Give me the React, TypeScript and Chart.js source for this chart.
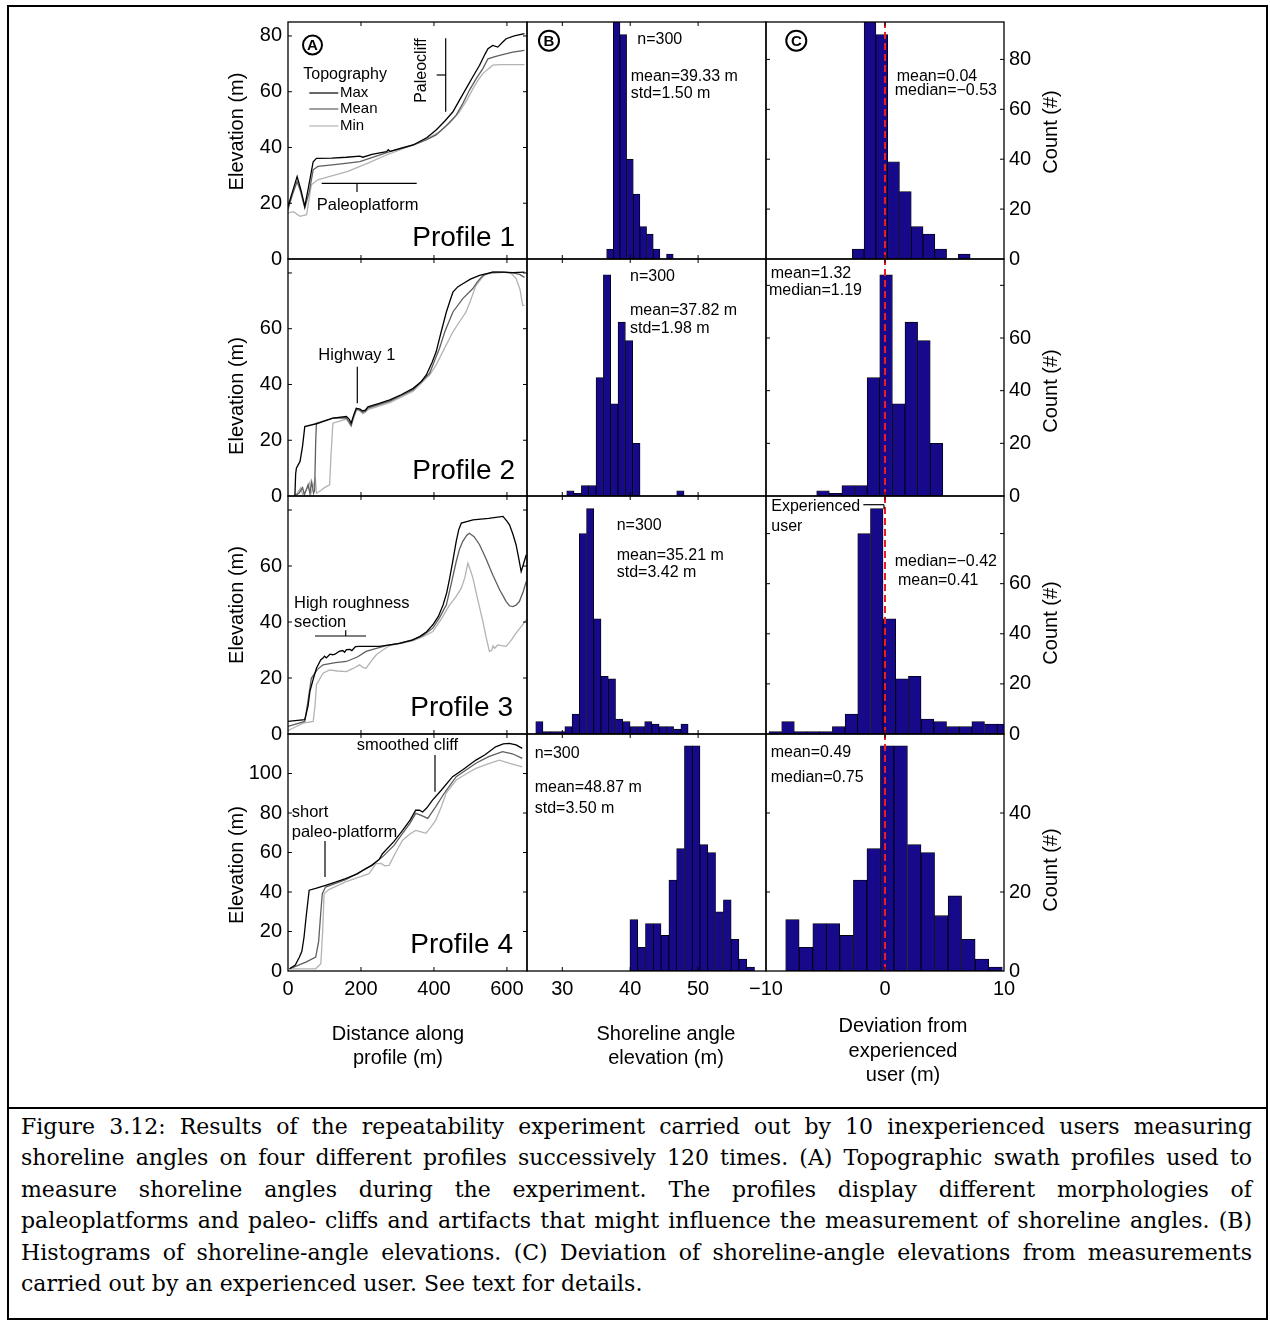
import React, { useEffect, useRef } from "react";
import { Chart, registerables } from "chart.js";

Chart.register(...registerables);

const SANS = '"Liberation Sans", Arial, Helvetica, sans-serif';
Chart.defaults.font.family = SANS;
Chart.defaults.color = "#000";

// ---------------- tick labels ----------------
const distanceTicks = [0, 200, 400, 600];
const shorelineTicks = [30, 40, 50];
const deviationTicks = [-10, 0, 10];
const elevationTicks = [
  [0, 20, 40, 60, 80],
  [0, 20, 40, 60, 80],
  [0, 20, 40, 60, 80],
  [0, 20, 40, 60, 80, 100, 120],
];
const elevationLabeled = [
  [0, 20, 40, 60, 80],
  [0, 20, 40, 60],
  [0, 20, 40, 60],
  [0, 20, 40, 60, 80, 100],
];
const countTicks = [
  [0, 20, 40, 60, 80],
  [0, 20, 40, 60, 80],
  [0, 20, 40, 60, 80],
  [0, 20, 40, 60],
];
const countLabeled = [
  [0, 20, 40, 60, 80],
  [0, 20, 40, 60],
  [0, 20, 40, 60],
  [0, 20, 40],
];

// ---------------- axis ranges ----------------
const distanceRange = [0, 655];
const shorelineRange = [24.8, 60];
const deviationRange = [-10, 10];
const elevationMax = [85, 85, 85, 120];
const countMax = [95, 90, 95, 60];

// ---------------- (A) topographic swath profiles: [distance m, elevation m] ----------------
const profile1Max = [[0,18.9],[12,24],[25,29.6],[35,25],[46,18.9],[55,25],[69,34.9],[78,36.1],[120,36.2],[160,36.5],[197,36.9],[205,36.5],[230,37.5],[270,38.5],[275,39.2],[280,38.6],[310,39.8],[343,40.9],[380,43.5],[406,46.3],[430,49.5],[452,52.8],[470,57],[488,61.1],[505,65],[525,69.5],[540,73.5],[548,75.4],[561,76.6],[575,76],[590,78],[598,79],[620,80],[648,80.8]];
const profile1Mean = [[0,17.7],[12,23],[25,27.8],[35,24],[46,18.3],[58,24],[69,32],[82,33.2],[140,34],[197,34.9],[240,36.8],[279,38.5],[310,39.6],[343,40.8],[380,42.8],[406,44.5],[435,48],[461,51.6],[480,56],[497,60.5],[515,64.5],[534,68.3],[548,71.8],[565,72.5],[580,73],[616,74.2],[648,74.8]];
const profile1Min = [[0,16.5],[15,17],[33,15.3],[51,15.9],[64,26.6],[82,28.4],[120,29.8],[164,31.4],[219,34.4],[270,37.3],[310,39.3],[352,41.5],[385,43.5],[415,45.6],[445,49],[470,52.8],[490,57],[507,61.1],[520,64],[534,66.5],[561,69.5],[580,69.7],[648,69.7]];

const profile2Max = [[17,0],[19,0.5],[21,8],[23,10],[33,12.4],[40,18],[46,24.9],[80,26],[123,27.9],[160,28.5],[168,27.5],[173,26.1],[180,29],[187,31.5],[197,31.2],[205,30.5],[212,30.8],[219,32],[250,33.2],[279,34.5],[310,36.3],[343,38.6],[365,41],[379,43.4],[395,48],[406,51.7],[420,59],[434,66],[444,70],[452,73.1],[465,75],[479,76.1],[500,77.8],[525,79.1],[561,80.3],[590,80.3],[616,80.1],[648,80.3]];
const profile2Mean = [[17,0],[30,1],[40,3],[45,0.5],[55,4],[60,1],[65,5],[70,1],[73,2],[76,20],[78,26.1],[123,27.9],[160,28],[168,26.5],[173,25.3],[180,28.5],[188,31.2],[197,30.8],[205,30],[212,30.3],[219,31.5],[279,34],[343,38.1],[388,44],[400,48],[415,52.9],[430,59],[452,66],[479,70.8],[506,74.3],[520,77],[534,79.1],[560,80.3],[580,80.3],[616,80],[635,79.5],[648,78.4]];
const profile2Min = [[17,0],[25,1],[35,3],[40,0.5],[50,2],[60,5],[62,0.5],[70,4],[75,6],[78,1],[90,2],[100,3],[114,4],[118,15],[123,26.1],[160,27.6],[168,26],[173,25],[180,28],[188,30.8],[197,30.5],[205,29.5],[212,30],[219,31],[279,33.5],[343,37.6],[388,43.4],[406,47],[424,51.7],[452,58.9],[470,62.5],[488,66],[500,70],[515,75.5],[530,78],[543,79.7],[598,80.3],[612,79.8],[625,78.1],[636,74],[643,68.4],[648,68.4]];

const profile3Max = [[0,4.5],[46,5.1],[55,10],[60,15.2],[70,20],[78,23.5],[90,26.5],[96,27.1],[100,27.8],[105,27.2],[115,28.5],[123,28.3],[130,28.6],[140,29.5],[150,29.8],[155,29.2],[160,30.1],[170,30.2],[175,29.8],[185,31.2],[196,31.3],[251,31.3],[306,32.4],[340,33.5],[361,34.8],[380,36.5],[397,39],[412,42],[425,46.1],[435,50.5],[443,55.6],[452,62],[461,68.8],[468,73],[475,75.3],[507,76.5],[550,77],[589,77.7],[600,76],[607,74.7],[616,71.5],[625,67.6],[632,63],[639,58],[646,61],[653,64]];
const profile3Mean = [[0,2.7],[46,4.5],[55,12],[64,19.9],[80,23],[96,24.7],[130,25.5],[160,25.9],[190,27.5],[214,29.5],[240,30.5],[269,31.6],[300,32.3],[342,33.6],[370,35.2],[397,37.8],[415,41.5],[434,46.1],[448,54],[461,61.6],[470,66],[479,68.8],[490,71],[497,71.7],[510,70.5],[525,67.6],[543,62.5],[561,56.9],[580,51.5],[598,47.3],[607,45.8],[616,45.5],[625,46],[634,47.3],[645,51],[653,54.5]];
const profile3Min = [[0,1.2],[20,2.5],[42,3.9],[69,4.5],[74,10],[78,17.6],[96,21.7],[114,22.9],[135,22.5],[160,22.3],[180,23.5],[196,24.7],[205,23.8],[214,23.5],[228,26],[242,28.3],[260,30],[279,31.6],[310,32.4],[342,33.3],[370,34.8],[397,36.6],[420,41],[443,46.1],[460,49],[475,52.1],[485,56],[493,61],[500,58.5],[507,55.6],[520,48],[534,40.2],[543,34.5],[552,29.5],[558,29.8],[562,31.5],[566,30.6],[575,31.8],[590,31.5],[598,31.3],[612,33.5],[625,36],[640,38.5],[653,40.8]];

const profile4Max = [[4,1.1],[20,3],[31,7],[38,10],[44,17.2],[50,28],[58,40.9],[76,41.8],[103,43.4],[130,45],[158,46.8],[190,49.2],[213,51.9],[230,53.5],[241,55.2],[250,56.5],[259,59.4],[290,65.5],[314,71.2],[335,76.5],[350,81.4],[360,81.4],[369,80.5],[380,82.5],[396,86.5],[420,91.5],[451,98.4],[480,102],[515,106.8],[540,109.5],[569,113.5],[590,115],[606,115.3],[625,114.5],[642,112.7]];
const profile4Mean = [[4,1.1],[49,4.5],[76,7],[84,15],[90,30],[94,39.1],[103,42.5],[158,46.2],[222,52.6],[241,55.2],[259,57.8],[290,63.5],[314,69.7],[335,75],[350,79.8],[365,78.8],[383,77.3],[405,83.2],[430,90.5],[461,98.4],[490,102],[515,105.2],[550,108.5],[588,111.1],[615,110],[642,107.7]];
const profile4Min = [[4,1.1],[40,1.1],[76,1.1],[90,3.7],[95,20],[99,39.1],[112,41.2],[158,45.1],[222,49.3],[241,54.4],[255,54.5],[265,53.3],[277,53.5],[295,60],[314,66.2],[335,69.5],[350,71.2],[365,70.5],[378,69.7],[392,73],[405,76.4],[420,83],[433,90],[461,96.7],[490,100],[515,102.6],[550,105],[579,106.8],[610,105],[642,103.4]];

// ---------------- (B) shoreline-angle elevation histograms ----------------
const elev1Bins = [37.02, 38.0, 38.98, 39.96, 40.94, 41.92, 42.9, 43.88, 45.84];
const elev1Counts = [4, 111, 90, 40, 26, 13, 10, 4, 2];
const elev2Bins = [31.19, 32.27, 33.35, 34.43, 35.51, 36.59, 37.67, 38.75, 39.83, 40.91, 47.39];
const elev2Counts = [2, 1, 4, 4, 45, 84, 35, 66, 59, 20, 2];
const elev3Bins = [26.62, 27.69, 28.76, 29.83, 30.9, 31.97, 33.03, 34.1, 35.17, 36.24, 37.31, 38.38, 39.45, 40.52, 41.59, 42.66, 43.73, 44.8, 45.86, 46.93, 48.0];
const elev3Counts = [5, 1, 1, 1, 3, 8, 80, 90, 46, 23, 22, 6, 5, 3, 3, 5, 4, 3, 3, 2, 4];
const elev4Bins = [40.53, 41.68, 42.82, 43.97, 45.12, 46.27, 47.41, 48.56, 49.71, 50.85, 52.0, 53.15, 54.3, 55.44, 56.59, 57.74];
const elev4Counts = [13, 6, 12, 12, 9, 23, 31, 57, 57, 32, 30, 15, 18, 8, 3, 1];

// ---------------- (C) deviation from experienced user ----------------
const dev1Bins = [-2.25, -1.26, -0.27, 0.72, 1.71, 2.7, 3.69, 4.68, 6.66];
const dev1Counts = [4, 111, 90, 39, 27, 13, 10, 4, 2];
const dev2Bins = [-5.21, -4.15, -3.09, -2.03, -0.97, 0.09, 1.15, 2.21, 3.27, 4.33];
const dev2Counts = [2, 1, 4, 4, 45, 84, 35, 66, 59, 20];
const dev3Bins = [-9.22, -8.15, -7.09, -6.02, -4.96, -3.89, -2.82, -1.76, -0.69, 0.37, 1.44, 2.5, 3.57, 4.64, 5.7, 6.77, 7.83, 8.9, 9.96];
const dev3Counts = [1, 5, 1, 1, 1, 3, 8, 80, 90, 46, 22, 23, 6, 5, 3, 3, 5, 4, 4];
const dev4Bins = [-7.78, -6.64, -5.5, -4.37, -3.23, -2.09, -0.95, 0.18, 1.32, 2.46, 3.6, 4.73, 5.87, 7.01, 8.15, 9.29];
const dev4Counts = [13, 6, 12, 12, 9, 23, 31, 57, 57, 32, 30, 14, 19, 8, 3, 1];
const experiencedDeviation = 0;

const profiles = [
  [profile1Max, profile1Mean, profile1Min],
  [profile2Max, profile2Mean, profile2Min],
  [profile3Max, profile3Mean, profile3Min],
  [profile4Max, profile4Mean, profile4Min],
];
const elevBins = [elev1Bins, elev2Bins, elev3Bins, elev4Bins];
const elevCounts = [elev1Counts, elev2Counts, elev3Counts, elev4Counts];
const devBins = [dev1Bins, dev2Bins, dev3Bins, dev4Bins];
const devCounts = [dev1Counts, dev2Counts, dev3Counts, dev4Counts];

const seriesNames = ["Max", "Mean", "Min"];
const seriesColors = ["#000000", "#5f5f5f", "#b3b3b3"];
const BAR_FILL = "#160a8a";

// ---------------- layout ----------------
const COL_X = [288, 527, 766];
const COL_W = [239, 239, 238];
const ROW_Y = [22, 259, 496, 734];
const ROW_H = [237, 237, 238, 237];
const PAD_V = 22;
const Y_AXIS_W = 75;
const X_AXIS_H = 30;
const TITLE_SPACE = 100;
const SIDE = 10;
const C_LEFT_R4 = 28;
const TICK_FONT = 20;
const STAT = 16;

type Note = { t: string; x: number; y: number; s?: number; a?: CanvasTextAlign; rot?: boolean; bl?: CanvasTextBaseline };
type Seg = { x1: number; y1: number; x2: number; y2: number; c?: string; w?: number };
type Ring = { x: number; y: number; r: number; l: string };
type Deco = { notes: Note[]; segs: Seg[]; rings: Ring[]; ySides: string[] };

const decoA: Deco[] = [
  {
    notes: [
      { t: "Topography", x: 15.3, y: 52.3, s: 16 },
      { t: "Max", x: 52, y: 71, s: 15 },
      { t: "Mean", x: 52, y: 87, s: 15 },
      { t: "Min", x: 52, y: 104, s: 15 },
      { t: "Paleocliff", x: 133.7, y: 48.5, s: 16, rot: true, a: "center" },
      { t: "Paleoplatform", x: 28.7, y: 183.8, s: 16.5 },
      { t: "Profile 1", x: 227, y: 224, s: 28, a: "right", bl: "alphabetic" },
      { t: "Elevation (m)", x: -51, y: 109.5, s: 20, rot: true, a: "center" },
    ],
    segs: [
      { x1: 21.3, y1: 71, x2: 50.3, y2: 71, c: seriesColors[0] },
      { x1: 21.3, y1: 87, x2: 50.3, y2: 87, c: seriesColors[1] },
      { x1: 21.3, y1: 104, x2: 50.3, y2: 104, c: seriesColors[2] },
      { x1: 157.7, y1: 16.3, x2: 157.7, y2: 89.7 },
      { x1: 148.7, y1: 53, x2: 157.7, y2: 53 },
      { x1: 33.7, y1: 161.3, x2: 128.7, y2: 161.3 },
      { x1: 69, y1: 161.3, x2: 69, y2: 170 },
    ],
    rings: [{ x: 24.5, y: 23, r: 9.5, l: "A" }],
    ySides: ["left", "right"],
  },
  {
    notes: [
      { t: "Highway 1", x: 30.3, y: 96, s: 16.5 },
      { t: "Profile 2", x: 227, y: 220, s: 28, a: "right", bl: "alphabetic" },
      { t: "Elevation (m)", x: -51, y: 137, s: 20, rot: true, a: "center" },
    ],
    segs: [{ x1: 69.3, y1: 107.7, x2: 69.3, y2: 144.3 }],
    rings: [],
    ySides: ["left", "right"],
  },
  {
    notes: [
      { t: "High roughness", x: 6, y: 107, s: 16.5 },
      { t: "section", x: 6, y: 126, s: 16.5 },
      { t: "Profile 3", x: 225, y: 220, s: 28, a: "right", bl: "alphabetic" },
      { t: "Elevation (m)", x: -51, y: 109, s: 20, rot: true, a: "center" },
    ],
    segs: [
      { x1: 27, y1: 140, x2: 78, y2: 140 },
      { x1: 57.7, y1: 134.3, x2: 57.7, y2: 140 },
    ],
    rings: [],
    ySides: ["left", "right"],
  },
  {
    notes: [
      { t: "smoothed cliff", x: 68.7, y: 11, s: 16.5 },
      { t: "short", x: 3.7, y: 78.5, s: 16.5 },
      { t: "paleo-platform", x: 3.7, y: 98.5, s: 16.5 },
      { t: "Profile 4", x: 225, y: 219, s: 28, a: "right", bl: "alphabetic" },
      { t: "Elevation (m)", x: -51, y: 131, s: 20, rot: true, a: "center" },
      { t: "Distance along", x: 110, y: 300, s: 20, a: "center" },
      { t: "profile (m)", x: 110, y: 324, s: 20, a: "center" },
    ],
    segs: [
      { x1: 147, y1: 21, x2: 147, y2: 57.7 },
      { x1: 37, y1: 107, x2: 37, y2: 143 },
    ],
    rings: [],
    ySides: ["left", "right"],
  },
];

const decoB: Deco[] = [
  {
    notes: [
      { t: "n=300", x: 110.3, y: 18 },
      { t: "mean=39.33 m", x: 103.7, y: 54.7 },
      { t: "std=1.50 m", x: 103.7, y: 72 },
    ],
    segs: [],
    rings: [{ x: 22, y: 18.7, r: 10, l: "B" }],
    ySides: [],
  },
  {
    notes: [
      { t: "n=300", x: 103, y: 17.7 },
      { t: "mean=37.82 m", x: 103, y: 52 },
      { t: "std=1.98 m", x: 103, y: 70 },
    ],
    segs: [],
    rings: [],
    ySides: [],
  },
  {
    notes: [
      { t: "n=300", x: 89.7, y: 29.3 },
      { t: "mean=35.21 m", x: 89.7, y: 59.3 },
      { t: "std=3.42 m", x: 89.7, y: 77 },
    ],
    segs: [],
    rings: [],
    ySides: [],
  },
  {
    notes: [
      { t: "n=300", x: 7.7, y: 20 },
      { t: "mean=48.87 m", x: 7.7, y: 53.3 },
      { t: "std=3.50 m", x: 7.7, y: 75 },
      { t: "Shoreline angle", x: 139, y: 300, s: 20, a: "center" },
      { t: "elevation (m)", x: 139, y: 324, s: 20, a: "center" },
    ],
    segs: [],
    rings: [],
    ySides: [],
  },
];

const decoC: Deco[] = [
  {
    notes: [
      { t: "mean=0.04", x: 130.7, y: 54.7 },
      { t: "median=\u22120.53", x: 128.7, y: 69 },
      { t: "Count (#)", x: 285, y: 110, s: 20, rot: true, a: "center" },
    ],
    segs: [],
    rings: [{ x: 30.3, y: 18.7, r: 10, l: "C" }],
    ySides: ["left", "right"],
  },
  {
    notes: [
      { t: "mean=1.32", x: 4.7, y: 14.3 },
      { t: "median=1.19", x: 3, y: 32 },
      { t: "Count (#)", x: 285, y: 132, s: 20, rot: true, a: "center" },
    ],
    segs: [],
    rings: [],
    ySides: ["left", "right"],
  },
  {
    notes: [
      { t: "Experienced", x: 5.3, y: 11 },
      { t: "user", x: 5.3, y: 30.3 },
      { t: "median=\u22120.42", x: 128.7, y: 66 },
      { t: "mean=0.41", x: 132, y: 84.3 },
      { t: "Count (#)", x: 285, y: 127, s: 20, rot: true, a: "center" },
    ],
    segs: [
      { x1: 97.3, y1: 8.7, x2: 118, y2: 8.7 },
      { x1: 118, y1: 8.7, x2: 118, y2: 13 },
    ],
    rings: [],
    ySides: ["left", "right"],
  },
  {
    notes: [
      { t: "mean=0.49", x: 4.7, y: 18.7 },
      { t: "median=0.75", x: 4.7, y: 43.3 },
      { t: "Count (#)", x: 285, y: 136, s: 20, rot: true, a: "center" },
      { t: "Deviation from", x: 137, y: 292, s: 20, a: "center" },
      { t: "experienced", x: 137, y: 317, s: 20, a: "center" },
      { t: "user (m)", x: 137, y: 341, s: 20, a: "center" },
    ],
    segs: [],
    rings: [],
    ySides: ["left", "right"],
  },
];

function fmt(v: number) {
  return v < 0 ? "\u2212" + Math.abs(v) : String(v);
}

function decoPlugin(deco: Deco) {
  return {
    id: "panelDeco",
    afterDraw(chart: any) {
      const { ctx, chartArea: a } = chart;
      const xs = chart.scales.x;
      const ys = chart.scales.y;
      const TL = 4;
      ctx.save();
      ctx.strokeStyle = "#000";
      ctx.lineWidth = 1;
      ctx.beginPath();
      for (const t of xs.ticks || []) {
        const p = xs.getPixelForValue(t.value);
        if (p <= a.left + 1 || p >= a.right - 1) continue;
        ctx.moveTo(p, a.bottom);
        ctx.lineTo(p, a.bottom - TL);
        ctx.moveTo(p, a.top);
        ctx.lineTo(p, a.top + TL);
      }
      for (const t of ys.ticks || []) {
        const p = ys.getPixelForValue(t.value);
        if (p <= a.top + 1 || p >= a.bottom - 1) continue;
        if (deco.ySides.includes("left")) {
          ctx.moveTo(a.left, p);
          ctx.lineTo(a.left + TL, p);
        }
        if (deco.ySides.includes("right")) {
          ctx.moveTo(a.right, p);
          ctx.lineTo(a.right - TL, p);
        }
      }
      ctx.stroke();
      ctx.lineWidth = 1.3;
      ctx.strokeRect(a.left, a.top, a.right - a.left, a.bottom - a.top);
      for (const s of deco.segs) {
        ctx.beginPath();
        ctx.strokeStyle = s.c || "#000";
        ctx.lineWidth = s.w || 1.2;
        ctx.moveTo(a.left + s.x1, a.top + s.y1);
        ctx.lineTo(a.left + s.x2, a.top + s.y2);
        ctx.stroke();
      }
      ctx.fillStyle = "#000";
      for (const r of deco.rings) {
        ctx.beginPath();
        ctx.strokeStyle = "#000";
        ctx.lineWidth = 2;
        ctx.arc(a.left + r.x, a.top + r.y, r.r, 0, Math.PI * 2);
        ctx.stroke();
        ctx.font = `bold 15px ${SANS}`;
        ctx.textAlign = "center";
        ctx.textBaseline = "middle";
        ctx.fillText(r.l, a.left + r.x, a.top + r.y + 1);
      }
      for (const n of deco.notes) {
        ctx.font = `${n.s || STAT}px ${SANS}`;
        ctx.textAlign = n.a || "left";
        ctx.textBaseline = n.bl || "middle";
        if (n.rot) {
          ctx.save();
          ctx.translate(a.left + n.x, a.top + n.y);
          ctx.rotate(-Math.PI / 2);
          ctx.fillText(n.t, 0, 0);
          ctx.restore();
        } else {
          ctx.fillText(n.t, a.left + n.x, a.top + n.y);
        }
      }
      ctx.restore();
    },
  };
}

function xScale(range: number[], ticks: number[], showLabels: boolean) {
  return {
    type: "linear",
    min: range[0],
    max: range[1],
    bounds: "data",
    offset: false,
    grid: { display: false, drawTicks: false },
    border: { display: false },
    afterBuildTicks: (s: any) => {
      s.ticks = ticks.map((v) => ({ value: v }));
    },
    afterFit: (s: any) => {
      s.height = showLabels ? X_AXIS_H : 0;
    },
    ticks: {
      display: showLabels,
      padding: 6,
      maxRotation: 0,
      autoSkip: false,
      font: { size: TICK_FONT },
      color: "#000",
      callback: (v: any) => fmt(Number(v)),
    },
  };
}

function yScale(max: number, ticks: number[], labeled: number[], pos: string | null) {
  const cfg: any = {
    type: "linear",
    min: 0,
    max,
    bounds: "data",
    display: pos !== null,
    position: pos || "left",
    grid: { display: false, drawTicks: false },
    border: { display: false },
    afterBuildTicks: (s: any) => {
      s.ticks = ticks.map((v) => ({ value: v }));
    },
    ticks: {
      padding: pos === "right" ? 5 : 6,
      autoSkip: false,
      font: { size: TICK_FONT },
      color: "#000",
      callback: (v: any) => (labeled.includes(Number(v)) ? fmt(Number(v)) : ""),
    },
  };
  if (pos !== null) {
    cfg.afterFit = (s: any) => {
      s.width = Y_AXIS_W;
    };
  }
  return cfg;
}

type PanelSpec = { key: string; left: number; top: number; width: number; height: number; make: () => any };

function buildPanel(r: number, c: number): PanelSpec {
  const X = COL_X[c];
  const W = COL_W[c];
  const Y = ROW_Y[r];
  const H = ROW_H[r];
  const last = r === 3;
  const padBottom = last ? TITLE_SPACE : PAD_V;
  const height = PAD_V + H + (last ? X_AXIS_H + TITLE_SPACE : PAD_V);
  const top = Y - PAD_V;
  const common = {
    animation: false,
    responsive: false,
    maintainAspectRatio: false,
    events: [],
  };
  if (c === 0) {
    const left = X - Y_AXIS_W;
    const width = Y_AXIS_W + W + SIDE;
    const make = () => ({
      type: "line",
      data: {
        datasets: profiles[r].map((pts, i) => ({
          label: seriesNames[i],
          data: pts.map(([x, y]) => ({ x, y })),
          borderColor: seriesColors[i],
          borderWidth: 1.3,
          pointRadius: 0,
          tension: 0,
          fill: false,
          order: i,
          clip: 0,
        })),
      },
      options: {
        ...common,
        layout: { padding: { left: 0, right: SIDE, top: PAD_V, bottom: padBottom } },
        plugins: { legend: { display: false }, tooltip: { enabled: false } },
        scales: {
          x: xScale(distanceRange, distanceTicks, last),
          y: yScale(elevationMax[r], elevationTicks[r], elevationLabeled[r], "left"),
        },
      },
      plugins: [decoPlugin(decoA[r])],
    });
    return { key: `p${r}${c}`, left, top, width, height, make };
  }
  const isC = c === 2;
  const padL = isC ? (last ? C_LEFT_R4 : SIDE) : SIDE;
  const padR = isC ? 0 : SIDE;
  const left = X - padL;
  const width = padL + W + (isC ? Y_AXIS_W : SIDE);
  const bins = isC ? devBins[r] : elevBins[r];
  const counts = isC ? devCounts[r] : elevCounts[r];
  const make = () => {
    const datasets: any[] = [];
    if (isC) {
      datasets.push({
        type: "line",
        label: "Experienced user",
        data: [
          { x: experiencedDeviation, y: 0 },
          { x: experiencedDeviation, y: countMax[r] },
        ],
        borderColor: "#ee1b24",
        borderWidth: 2,
        borderDash: [7, 4],
        pointRadius: 0,
        order: 0,
        clip: 0,
      });
    }
    datasets.push({
      type: "bar",
      label: "Count",
      data: bins.map((x, i) => ({ x, y: counts[i] })),
      backgroundColor: BAR_FILL,
      borderColor: "#000",
      borderWidth: 0.8,
      borderSkipped: false,
      barPercentage: 1,
      categoryPercentage: 1,
      order: 1,
      clip: 0,
    });
    return {
      type: "bar",
      data: { datasets },
      options: {
        ...common,
        layout: { padding: { left: padL, right: padR, top: PAD_V, bottom: padBottom } },
        plugins: { legend: { display: false }, tooltip: { enabled: false } },
        scales: {
          x: xScale(isC ? deviationRange : shorelineRange, isC ? deviationTicks : shorelineTicks, last),
          y: yScale(countMax[r], countTicks[r], countLabeled[r], isC ? "right" : null),
        },
      },
      plugins: [decoPlugin(isC ? decoC[r] : decoB[r])],
    };
  };
  return { key: `p${r}${c}`, left, top, width, height, make };
}

const PANELS: PanelSpec[] = [];
for (let r = 0; r < 4; r++) for (let c = 0; c < 3; c++) PANELS.push(buildPanel(r, c));

function Panel({ spec }: { spec: PanelSpec }) {
  const ref = useRef<HTMLCanvasElement | null>(null);
  useEffect(() => {
    if (!ref.current) return;
    const chart = new Chart(ref.current, spec.make());
    return () => chart.destroy();
  }, [spec]);
  return (
    <canvas
      ref={ref}
      width={spec.width}
      height={spec.height}
      style={{ position: "absolute", left: spec.left, top: spec.top, width: spec.width, height: spec.height }}
    />
  );
}

const captionLines = [
  "Figure 3.12: Results of the repeatability experiment carried out by 10 inexperienced users measuring",
  "shoreline angles on four different profiles successively 120 times. (A) Topographic swath profiles used to",
  "measure shoreline angles during the experiment. The profiles display different morphologies of",
  "paleoplatforms and paleo- cliffs and artifacts that might influence the measurement of shoreline angles. (B)",
  "Histograms of shoreline-angle elevations. (C) Deviation of shoreline-angle elevations from measurements",
  "carried out by an experienced user. See text for details.",
];

export default function App() {
  return (
    <div style={{ position: "absolute", left: 0, top: 0, width: 1270, height: 1321, overflow: "hidden", background: "#fff" }}>
      <div
        style={{
          position: "absolute",
          left: 7,
          top: 5,
          width: 1261,
          height: 1315,
          border: "2px solid #000",
          boxSizing: "border-box",
        }}
      />
      <div style={{ position: "absolute", left: 7, top: 1107, width: 1261, height: 2, background: "#000" }} />
      {PANELS.map((p) => (
        <Panel key={p.key} spec={p} />
      ))}
      <div
        style={{
          position: "absolute",
          left: 21,
          top: 1111,
          width: 1231,
          fontFamily: '"DejaVu Serif", "Liberation Serif", serif',
          fontSize: 22,
          lineHeight: "31.4px",
          color: "#000",
        }}
      >
        {captionLines.map((line, i) => (
          <div
            key={i}
            style={{
              textAlign: i === captionLines.length - 1 ? "left" : "justify",
              textAlignLast: i === captionLines.length - 1 ? "left" : "justify",
            }}
          >
            {line}
          </div>
        ))}
      </div>
    </div>
  );
}
